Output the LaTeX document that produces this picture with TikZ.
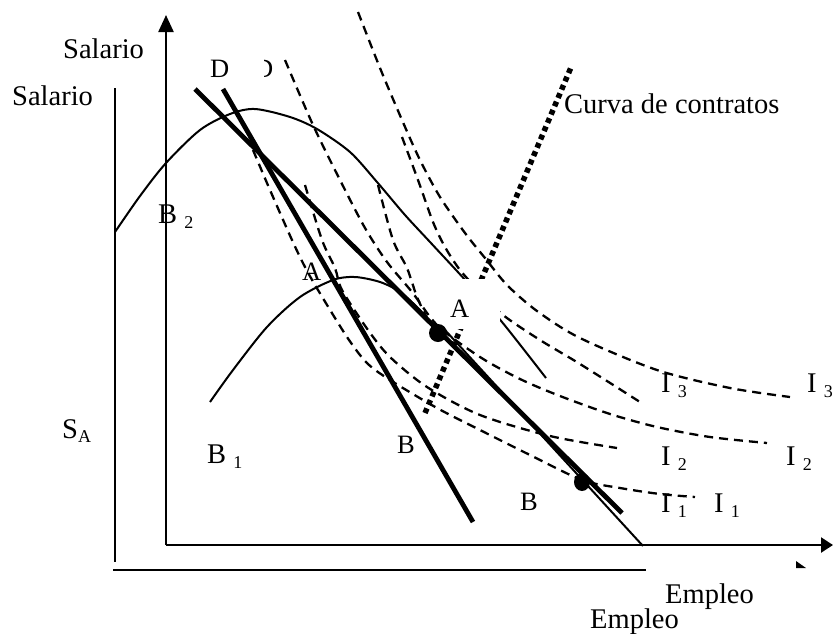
\documentclass[tikz,border=0pt]{standalone}
\usepackage{fontspec}
\setmainfont{Liberation Serif}
\usetikzlibrary{arrows.meta,shapes.geometric}
\newcommand{\sbs}[1]{\raisebox{-5pt}{\fontsize{18}{18}\selectfont #1}}
\begin{document}
\begin{tikzpicture}[x=1pt,y=-1pt,
 lbl/.style={inner sep=0pt, anchor=base west, font=\fontsize{28.5}{30}\selectfont},
 slbl/.style={inner sep=0pt, anchor=base west, font=\fontsize{26.5}{28}\selectfont},
 axisline/.style={line width=2.3pt},
 budget/.style={line width=4.8pt},
 thinline/.style={line width=2pt},
 indiff/.style={line width=2.3pt, dash pattern=on 9pt off 6pt},
 contract/.style={line width=5.5pt, dash pattern=on 5pt off 4pt},
 dotpt/.style={circle, fill=black, inner sep=0pt, minimum size=18pt}]
\useasboundingbox (0,0) rectangle (833,633);

% back axes
\draw[line width=2.4pt] (115,88) -- (115,562);
\draw[line width=2.8pt] (113,570) -- (646,570);
% front axes
\coordinate (O) at (166,545);
\coordinate (ytop) at (166,15);
\coordinate (xend) at (833,545);
\draw[axisline,-{Triangle[width=15pt,length=17pt]}] (O) -- (ytop);
\draw[axisline,-{Triangle[width=15pt,length=12pt]}] (O) -- (xend);
\fill (796,561) -- (806,568) -- (796,568) -- cycle;

% indifference curves (dashed)
\draw[indiff] plot[smooth] coordinates {(358,12) (380,68) (402,120) (420,160) (440,197) (465,233) (485,258) (507,285) (537,311) (580,338) (657,370) (730,388) (790,397)};
\draw[indiff] plot[smooth] coordinates {(402,137) (418,180) (433,222) (445,247) (460,270) (480,292) (503,315) (540,340) (580,364) (640,402)};
\draw[indiff] plot[smooth] coordinates {(285,60) (313,125) (340,180) (365,228) (387,262) (412,292) (438,326) (480,357) (520,379) (560,396) (610,414) (657,427) (710,437) (767,443)};
\draw[indiff] plot[smooth] coordinates {(378,185) (393,240) (407,268) (417,297) (427,318)};
\draw[indiff] plot[smooth] coordinates {(305,185) (322,240) (335,268) (342,290) (368,330) (390,357) (427,387) (480,415) (550,436) (617,448)};
\draw[indiff] plot[smooth] coordinates {(253,150) (270,190) (292,240) (305,267) (318,290) (347,337) (367,363) (390,380) (437,408) (480,430) (530,455) (582,480) (620,488) (660,494) (695,497)};

% isoprofit parabolas
\draw[thinline] plot[smooth] coordinates {(115,232) (140,196) (166,163) (200,130) (230,114) (255,109) (290,117) (317,129) (350,152) (377,182) (405,215) (430,242) (467,282) (502,322) (546,378)};
\draw[thinline] plot[smooth] coordinates {(210,402) (233,370) (267,327) (300,297) (333,280) (355,277) (380,282) (400,292) (420,310) (432,325)};

% budget lines
\draw[budget] (223,89) -- (473,522);
\draw[budget] (195,89) -- (622,513);
\draw[thinline] (445,330) -- (643,546);

% contract curve
\draw[contract] (425,413) -- (572,65);

% white label box
\fill[white] (455,279) rectangle (500,329);

% dots
\node[dotpt] (A) at (438,333) {};
\node[ellipse, fill=black, inner sep=0pt, minimum width=16pt, minimum height=18pt] (B) at (582,482) {};

% labels
\node[lbl] (sal1) at (63,58) {Salario};
\node[lbl] (sal2) at (12,105) {Salario};
\node[lbl] (sa) at (62,438) {S\raisebox{-4pt}{\fontsize{18}{18}\selectfont A}};
\node[lbl] (b2) at (158,223) {B \sbs{2}};
\node[lbl] (b1) at (207,463) {B \sbs{1}};
\node[slbl] (al) at (302,280) {A};
\node[slbl] (ar) at (450,317) {A};
\node[slbl] (bl) at (397,453) {B};
\node[slbl] (br) at (520,510) {B};
\node[slbl] (dl) at (210,77) {D};
\begin{scope}
\clip (264,50) rectangle (285,85);
\node[slbl] (dp) at (254,77) {D};
\end{scope}
\node[lbl] (i3l) at (661,392) {I \sbs{3}};
\node[lbl] (i3r) at (807,392) {I \sbs{3}};
\node[lbl] (i2l) at (661,465) {I \sbs{2}};
\node[lbl] (i2r) at (786,465) {I \sbs{2}};
\node[lbl] (i1l) at (661,512) {I \sbs{1}};
\node[lbl] (i1r) at (714,512) {I \sbs{1}};
\node[lbl] (cc) at (564,113) {Curva de contratos};
\node[lbl] (e1) at (665,603) {Empleo};
\node[lbl] (e2) at (590,628) {Empleo};
\end{tikzpicture}
\end{document}
